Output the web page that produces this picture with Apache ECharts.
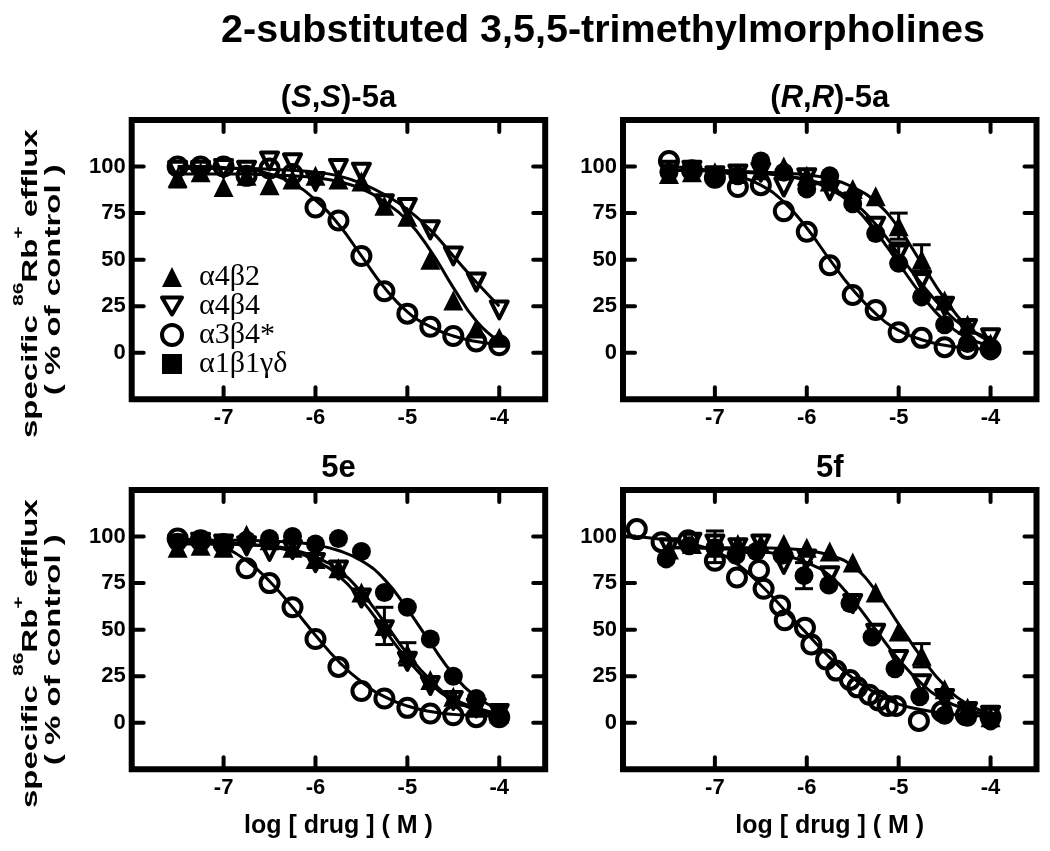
<!DOCTYPE html>
<html><head><meta charset="utf-8">
<script src="https://cdn.jsdelivr.net/npm/echarts@6/dist/echarts.min.js"></script>
<style>html,body{margin:0;padding:0;background:#fff}#c{width:1050px;height:851px}</style>
</head><body><div id="c"></div>
<script>
// ---------- data ----------
const xTicks = [-7, -6, -5, -4];
const yTicks = [0, 25, 50, 75, 100];
const receptorNames = ['α4β2', 'α4β4', 'α3β4*', 'α1β1γδ'];
const mainTitle = '2-substituted 3,5,5-trimethylmorpholines';
const xTitle = 'log [ drug ] ( M )';

// (S,S)-5a
const ss5a_a4b2 = [[-7.5,94],[-7.25,97],[-7,89],[-6.75,95],[-6.5,90],[-6.25,93],[-6,95],[-5.75,93],[-5.5,92],[-5.25,79],[-5,73],[-4.75,50],[-4.5,28],[-4.25,13],[-4,8]];
const ss5a_a4b4 = [[-7.5,98],[-7.25,98],[-7,99],[-6.75,98],[-6.5,103],[-6.25,102],[-6,92],[-5.75,99],[-5.5,97],[-5.25,80],[-5,78],[-4.75,66],[-4.5,52],[-4.25,38],[-4,23]];
const ss5a_a3b4 = [[-7.5,100],[-7.25,100],[-7,100],[-6.75,95],[-6.5,99],[-6.25,96],[-6,78],[-5.75,71],[-5.5,52],[-5.25,33],[-5,21],[-4.75,14],[-4.5,9],[-4.25,6],[-4,4]];
const ss5a_fit_a4b2 = [[-7.5,96],[-7.25,96],[-7,96],[-6.75,96],[-6.5,95.5],[-6.25,95],[-6,94],[-5.75,92],[-5.5,88],[-5.25,81],[-5,71],[-4.75,55],[-4.5,35],[-4.25,17],[-4,6]];
const ss5a_fit_a4b4 = [[-7.5,99],[-7.25,99],[-7,99],[-6.75,99],[-6.5,98.5],[-6.25,98],[-6,97],[-5.75,95],[-5.5,91],[-5.25,85],[-5,77],[-4.75,66],[-4.5,52],[-4.25,38],[-4,25]];
const ss5a_fit_a3b4 = [[-7.5,100],[-7.25,100],[-7,99.5],[-6.75,98.5],[-6.5,96],[-6.25,91],[-6,82],[-5.75,69],[-5.5,52],[-5.25,35],[-5,22],[-4.75,14],[-4.5,9],[-4.25,6],[-4,4.5]];
const ss5a_err = [[-7.5,89,97]];

// (R,R)-5a
const rr5a_a4b2 = [[-7.5,96],[-7.25,97],[-7,97],[-6.75,96],[-6.5,98],[-6.25,100],[-6,95],[-5.75,92],[-5.5,88],[-5.25,84],[-5,68],[-4.75,50],[-4.5,28],[-4.25,15],[-4,5]];
const rr5a_a4b4 = [[-7.5,98],[-7.25,98],[-7,95],[-6.75,96],[-6.5,97],[-6.25,89],[-6,94],[-5.75,87],[-5.5,81],[-5.25,68],[-5,53],[-4.75,39],[-4.5,25],[-4.25,13],[-4,8]];
const rr5a_a3b4 = [[-7.5,103],[-7.25,98],[-7,94],[-6.75,89],[-6.5,90],[-6.25,76],[-6,65],[-5.75,47],[-5.5,31],[-5.25,23],[-5,11],[-4.75,8],[-4.5,3],[-4.25,2],[-4,2]];
const rr5a_a1b1 = [[-7.5,97],[-7.25,97],[-7,94],[-6.75,95],[-6.5,103],[-6.25,97],[-6,88],[-5.75,95],[-5.5,80],[-5.25,64],[-5,48],[-4.75,30],[-4.5,15],[-4.25,5],[-4,1]];
const rr5a_fit_a4b2 = [[-7.5,98],[-7.25,98],[-7,98],[-6.75,97.5],[-6.5,97],[-6.25,96.5],[-6,95.5],[-5.75,93.5],[-5.5,89],[-5.25,81],[-5,67],[-4.75,48],[-4.5,29],[-4.25,14],[-4,6]];
const rr5a_fit_a4b4 = [[-7.5,98],[-7.25,98],[-7,97.5],[-6.75,97],[-6.5,96.5],[-6.25,95],[-6,93],[-5.75,89],[-5.5,81],[-5.25,69],[-5,53],[-4.75,37],[-4.5,23],[-4.25,13],[-4,8]];
const rr5a_fit_a3b4 = [[-7.5,100],[-7.25,99],[-7,97.5],[-6.75,95],[-6.5,90],[-6.25,81],[-6,67],[-5.75,50],[-5.5,34],[-5.25,21],[-5,12],[-4.75,7],[-4.5,4],[-4.25,2.5],[-4,2]];
const rr5a_fit_a1b1 = [[-7.5,98],[-7.25,98],[-7,97.5],[-6.75,97],[-6.5,96.5],[-6.25,95],[-6,92.5],[-5.75,88],[-5.5,79],[-5.25,65],[-5,48],[-4.75,31],[-4.5,17],[-4.25,8],[-4,4]];
const rr5a_err = [[-5,61,75],[-4.75,42,58],[-5,48,59]];

// 5e
const e_a4b2 = [[-7.5,94],[-7.25,95],[-7,94],[-6.75,101],[-6.5,98],[-6.25,94],[-6,88],[-5.75,83],[-5.5,70],[-5.25,52],[-5,37],[-4.75,23],[-4.5,14],[-4.25,8],[-4,5]];
const e_a4b4 = [[-7.5,96],[-7.25,97],[-7,96],[-6.75,95],[-6.5,92],[-6.25,93],[-6,86],[-5.75,82],[-5.5,67],[-5.25,50],[-5,33],[-4.75,20],[-4.5,12],[-4.25,8],[-4,5]];
const e_a3b4 = [[-7.5,99],[-7.25,98],[-7,96],[-6.75,83],[-6.5,75],[-6.25,62],[-6,45],[-5.75,30],[-5.5,17],[-5.25,13],[-5,8],[-4.75,5],[-4.5,4],[-4.25,3],[-4,3]];
const e_a1b1 = [[-7.5,97],[-7.25,97],[-7,96],[-6.75,98],[-6.5,99],[-6.25,100],[-6,96],[-5.75,99],[-5.5,92],[-5.25,70],[-5,62],[-4.75,45],[-4.5,25],[-4.25,13],[-4,4]];
const e_fit_a4b2 = [[-7.5,96],[-7.25,96],[-7,96],[-6.75,95.5],[-6.5,95],[-6.25,93],[-6,89],[-5.75,82],[-5.5,70],[-5.25,54],[-5,37],[-4.75,23],[-4.5,13],[-4.25,8],[-4,5]];
const e_fit_a4b4 = [[-7.5,97],[-7.25,97],[-7,96.5],[-6.75,96],[-6.5,94.5],[-6.25,92],[-6,87],[-5.75,79],[-5.5,66],[-5.25,50],[-5,34],[-4.75,21],[-4.5,12],[-4.25,7],[-4,4]];
const e_fit_a3b4 = [[-7.5,99],[-7.25,97.5],[-7,94],[-6.75,87],[-6.5,76],[-6.25,62],[-6,47],[-5.75,33],[-5.5,22],[-5.25,14],[-5,9],[-4.75,6],[-4.5,4.5],[-4.25,4],[-4,3.5]];
const e_fit_a1b1 = [[-7.5,98],[-7.25,98],[-7,98],[-6.75,98],[-6.5,97.5],[-6.25,97],[-6,95.5],[-5.75,92.5],[-5.5,87],[-5.25,77],[-5,61],[-4.75,43],[-4.5,26],[-4.25,14],[-4,7]];
const e_err = [[-5.25,42,62],[-5,31,43]];

// 5f
const f_a4b2 = [[-7.5,93],[-7.25,96],[-7,94],[-6.75,96],[-6.5,96],[-6.25,96],[-6,94],[-5.75,92],[-5.5,86],[-5.25,70],[-5,49],[-4.75,36],[-4.5,18],[-4.25,8],[-4,3]];
const f_a4b4 = [[-7.5,94],[-7.25,97],[-7,96],[-6.75,94],[-6.5,96],[-6.25,85],[-6,88],[-5.75,79],[-5.5,64],[-5.25,48],[-5,34],[-4.75,21],[-4.5,13],[-4.25,6],[-4,4]];
const f_a3b4 = [[-7.85,104],[-7.58,97],[-7.29,98],[-7,87],[-6.76,78],[-6.52,82],[-6.47,72],[-6.29,63],[-6.24,55],[-6.02,51],[-5.95,42],[-5.79,34],[-5.68,28],[-5.53,23],[-5.45,19],[-5.32,15],[-5.22,12],[-5.12,9],[-5.03,9],[-4.78,1],[-4.53,6],[-4.27,4],[-4,3]];
const f_a1b1 = [[-7.53,88],[-7.28,95],[-7,94],[-6.77,90],[-6.55,92],[-6.27,90],[-6.03,79],[-5.76,74],[-5.53,64],[-5.29,46],[-5.04,29],[-4.77,14],[-4.5,4],[-4.25,3],[-4,1]];
const f_fit_a4b2 = [[-7.5,94],[-7.25,94],[-7,94],[-6.75,94],[-6.5,94],[-6.25,93.5],[-6,92.5],[-5.75,90],[-5.5,84],[-5.25,71],[-5,53],[-4.75,35],[-4.5,20],[-4.25,10],[-4,5]];
const f_fit_a4b4 = [[-7.5,94],[-7.25,94],[-7,93.5],[-6.75,93],[-6.5,92],[-6.25,90],[-6,86],[-5.75,79],[-5.5,66],[-5.25,50],[-5,34],[-4.75,21],[-4.5,12],[-4.25,7],[-4,4]];
const f_fit_a3b4 = [[-7.85,100],[-7.5,98],[-7.25,96],[-7,92],[-6.75,85],[-6.5,74],[-6.25,61],[-6,48],[-5.75,35],[-5.5,24],[-5.25,16],[-5,10],[-4.75,7],[-4.5,5],[-4.25,4],[-4,3.5]];
const f_err = [[-7,86,103],[-6.03,72,86],[-4.75,30,42.5]];

// ---------- layout / styles ----------
const SANS = '"Liberation Sans", Arial, sans-serif';
const SERIF = '"Liberation Serif", "Times New Roman", serif';
const GW = 413.5, GH = 279.3;
const X_MIN = -8, X_MAX = -3.5, Y_MIN = -25, Y_MAX = 125;
const panels = [
  { title: '{t|(}{ti|S}{t|,}{ti|S}{t|)-5a}', left: 131.7, top: 120,
    pts: { 'α4β2': ss5a_a4b2, 'α4β4': ss5a_a4b4, 'α3β4*': ss5a_a3b4 },
    fits: [ss5a_fit_a4b2, ss5a_fit_a4b4, ss5a_fit_a3b4], err: ss5a_err, yTitle: true, xTitle: false },
  { title: '{t|(}{ti|R}{t|,}{ti|R}{t|)-5a}', left: 623, top: 120,
    pts: { 'α4β2': rr5a_a4b2, 'α4β4': rr5a_a4b4, 'α3β4*': rr5a_a3b4, 'α1β1γδ': rr5a_a1b1 },
    fits: [rr5a_fit_a4b2, rr5a_fit_a4b4, rr5a_fit_a3b4, rr5a_fit_a1b1], err: rr5a_err, yTitle: false, xTitle: false },
  { title: '{t|5e}', left: 131.7, top: 490,
    pts: { 'α4β2': e_a4b2, 'α4β4': e_a4b4, 'α3β4*': e_a3b4, 'α1β1γδ': e_a1b1 },
    fits: [e_fit_a4b2, e_fit_a4b4, e_fit_a3b4, e_fit_a1b1], err: e_err, yTitle: true, xTitle: true },
  { title: '{t|5f}', left: 623, top: 490,
    pts: { 'α4β2': f_a4b2, 'α4β4': f_a4b4, 'α3β4*': f_a3b4, 'α1β1γδ': f_a1b1 },
    fits: [f_fit_a4b2, f_fit_a4b4, f_fit_a3b4], err: f_err, yTitle: false, xTitle: true }
];

const markerStyle = {
  'α4β2':   { symbol: 'triangle', symbolSize: 20, symbolRotate: 0, itemStyle: { color: '#000', opacity: 1 } },
  'α4β4':   { symbol: 'triangle', symbolSize: 17, symbolRotate: 180, itemStyle: { color: 'rgba(255,255,255,0)', borderColor: '#000', borderWidth: 4, borderJoin: 'round', opacity: 1 } },
  'α3β4*':  { symbol: 'circle', symbolSize: 18, symbolRotate: 0, itemStyle: { color: 'rgba(255,255,255,0)', borderColor: '#000', borderWidth: 4, opacity: 1 } },
  'α1β1γδ': { symbol: 'circle', symbolSize: 19, symbolRotate: 0, itemStyle: { color: '#000', opacity: 1 } }
};

const labelStyle = { color: '#000', fontFamily: SANS, fontWeight: 'bold', fontSize: 22 };
const TICK_LEN = 12;

const grid = [], xAxis = [], yAxis = [], series = [], graphic = [];

panels.forEach((p, i) => {
  grid.push({ left: p.left, top: p.top, width: GW, height: GH, show: true, borderColor: '#000', borderWidth: 6, backgroundColor: 'rgba(0,0,0,0)', outerBoundsMode: 'none' });
  xAxis.push({
    gridIndex: i, type: 'value', position: 'bottom', min: X_MIN, max: X_MAX, interval: 1,
    axisLine: { show: false, onZero: false }, splitLine: { show: false }, axisTick: { show: false },
    axisLabel: Object.assign({ show: true, margin: 8, showMinLabel: false, showMaxLabel: false,
      formatter: v => (xTicks.indexOf(v) >= 0 ? String(v) : '') }, labelStyle)
  });
  yAxis.push({
    gridIndex: i, type: 'value', position: 'left', min: Y_MIN, max: Y_MAX, interval: 25,
    axisLine: { show: false, onZero: false }, splitLine: { show: false }, axisTick: { show: false },
    axisLabel: Object.assign({ show: true, margin: 6,
      formatter: v => (yTicks.indexOf(v) >= 0 ? String(v) : '') }, labelStyle)
  });
  const xi = i, yi = i;
  p.fits.forEach(f => series.push({
    type: 'line', xAxisIndex: xi, yAxisIndex: yi, data: f, smooth: 0.5,
    showSymbol: false, symbol: 'none', silent: true, z: 2,
    lineStyle: { color: '#000', width: 3, opacity: 1 }
  }));
  series.push({
    type: 'custom', xAxisIndex: xi, yAxisIndex: yi, data: p.err, silent: true, z: 3,
    encode: { x: 0, y: [1, 2] },
    renderItem: (params, api) => {
      const x = api.value(0);
      const a = api.coord([x, api.value(1)]);
      const b = api.coord([x, api.value(2)]);
      const st = { stroke: '#000', lineWidth: 3 };
      return { type: 'group', children: [
        { type: 'line', shape: { x1: a[0], y1: a[1], x2: b[0], y2: b[1] }, style: st },
        { type: 'line', shape: { x1: b[0] - 9, y1: b[1], x2: b[0] + 9, y2: b[1] }, style: st },
        { type: 'line', shape: { x1: a[0] - 9, y1: a[1], x2: a[0] + 9, y2: a[1] }, style: st }
      ] };
    }
  });
  receptorNames.forEach(name => {
    if (!p.pts[name]) return;
    const m = markerStyle[name];
    series.push({
      type: 'scatter', name: name, xAxisIndex: xi, yAxisIndex: yi, data: p.pts[name],
      symbol: m.symbol, symbolSize: m.symbolSize, symbolRotate: m.symbolRotate,
      itemStyle: m.itemStyle, clip: false, z: 4, emphasis: { disabled: true }
    });
  });
  const cx = p.left + GW / 2;
  graphic.push({ type: 'text', x: cx, y: p.top - 22, silent: true,
    style: { text: p.title, align: 'center', verticalAlign: 'middle',
      rich: { t: { fontFamily: SANS, fontWeight: 'bold', fontSize: 31, fill: '#000' },
              ti: { fontFamily: SANS, fontWeight: 'bold', fontStyle: 'italic', fontSize: 31, fill: '#000' } } } });
  if (p.xTitle) graphic.push({ type: 'text', x: cx, y: p.top + GH + 57, silent: true,
    style: { text: xTitle, align: 'center', verticalAlign: 'middle', fontFamily: SANS, fontWeight: 'bold', fontSize: 25, fill: '#000' } });
  if (p.yTitle) {
    const cy = p.top + GH / 2;
    graphic.push({ type: 'text', x: 27, y: cy + 24, rotation: Math.PI / 2, scaleX: 1.5, silent: true,
      style: { text: '{a|specific }{s|86}{a|Rb}{s|+}{a| efflux}', align: 'center', verticalAlign: 'middle',
        rich: { a: { fontFamily: SANS, fontWeight: 'bold', fontSize: 22, lineHeight: 30, verticalAlign: 'bottom', fill: '#000' },
                s: { fontFamily: SANS, fontWeight: 'bold', fontSize: 14, lineHeight: 30, verticalAlign: 'top', fill: '#000' } } } });
    graphic.push({ type: 'text', x: 54, y: cy + 20, rotation: Math.PI / 2, scaleX: 1.5, silent: true,
      style: { text: '( % of control )', align: 'center', verticalAlign: 'middle', fontFamily: SANS, fontWeight: 'bold', fontSize: 22, fill: '#000' } });
  }
});

graphic.push({ type: 'text', x: 603, y: 31, silent: true,
  style: { text: mainTitle, align: 'center', verticalAlign: 'middle', fontFamily: SANS, fontWeight: 'bold', fontSize: 39.5, fill: '#000' } });

const chart = echarts.init(document.getElementById('c'), null, { renderer: 'canvas' });
chart.setOption({
  animation: false,
  backgroundColor: '#fff',
  grid, xAxis, yAxis, series, graphic,
  legend: {
    show: true, orient: 'vertical', left: 155, top: 257, itemWidth: 20, itemHeight: 20, itemGap: -1,
    selectedMode: false, symbolRotate: 0,
    textStyle: { fontFamily: SERIF, fontSize: 30, color: '#000', lineHeight: 22, padding: [0, 0, 0, 12] },
    data: [
      { name: 'α4β2', icon: 'triangle', itemStyle: { color: '#000', opacity: 1 } },
      { name: 'α4β4', icon: 'path://M0,0L20,0L10,17Z', itemStyle: { color: 'rgba(255,255,255,0)', borderColor: '#000', borderWidth: 4, opacity: 1 } },
      { name: 'α3β4*', icon: 'circle', itemStyle: { color: 'rgba(255,255,255,0)', borderColor: '#000', borderWidth: 4, opacity: 1 } },
      { name: 'α1β1γδ', icon: 'rect', itemStyle: { color: '#000', opacity: 1 } }
    ]
  }
});

// inward tick marks on all four sides of every panel, placed through the axes' own scales
const tickSt = { stroke: '#000', lineWidth: 4, lineCap: 'round' };
const tickGraphics = [];
panels.forEach((p, i) => {
  const px = (x, y) => chart.convertToPixel({ gridIndex: i }, [x, y]);
  xTicks.forEach(v => {
    const b = px(v, Y_MIN), t = px(v, Y_MAX);
    if (!b || !t) return;
    tickGraphics.push({ type: 'line', z: 100, silent: true, shape: { x1: b[0], y1: b[1], x2: b[0], y2: b[1] - TICK_LEN }, style: tickSt });
    tickGraphics.push({ type: 'line', z: 100, silent: true, shape: { x1: t[0], y1: t[1], x2: t[0], y2: t[1] + TICK_LEN }, style: tickSt });
  });
  yTicks.forEach(v => {
    const l = px(X_MIN, v), r = px(X_MAX, v);
    if (!l || !r) return;
    tickGraphics.push({ type: 'line', z: 100, silent: true, shape: { x1: l[0], y1: l[1], x2: l[0] + TICK_LEN, y2: l[1] }, style: tickSt });
    tickGraphics.push({ type: 'line', z: 100, silent: true, shape: { x1: r[0], y1: r[1], x2: r[0] - TICK_LEN, y2: r[1] }, style: tickSt });
  });
});
chart.setOption({ graphic: graphic.concat(tickGraphics) });
</script>
</body></html>
